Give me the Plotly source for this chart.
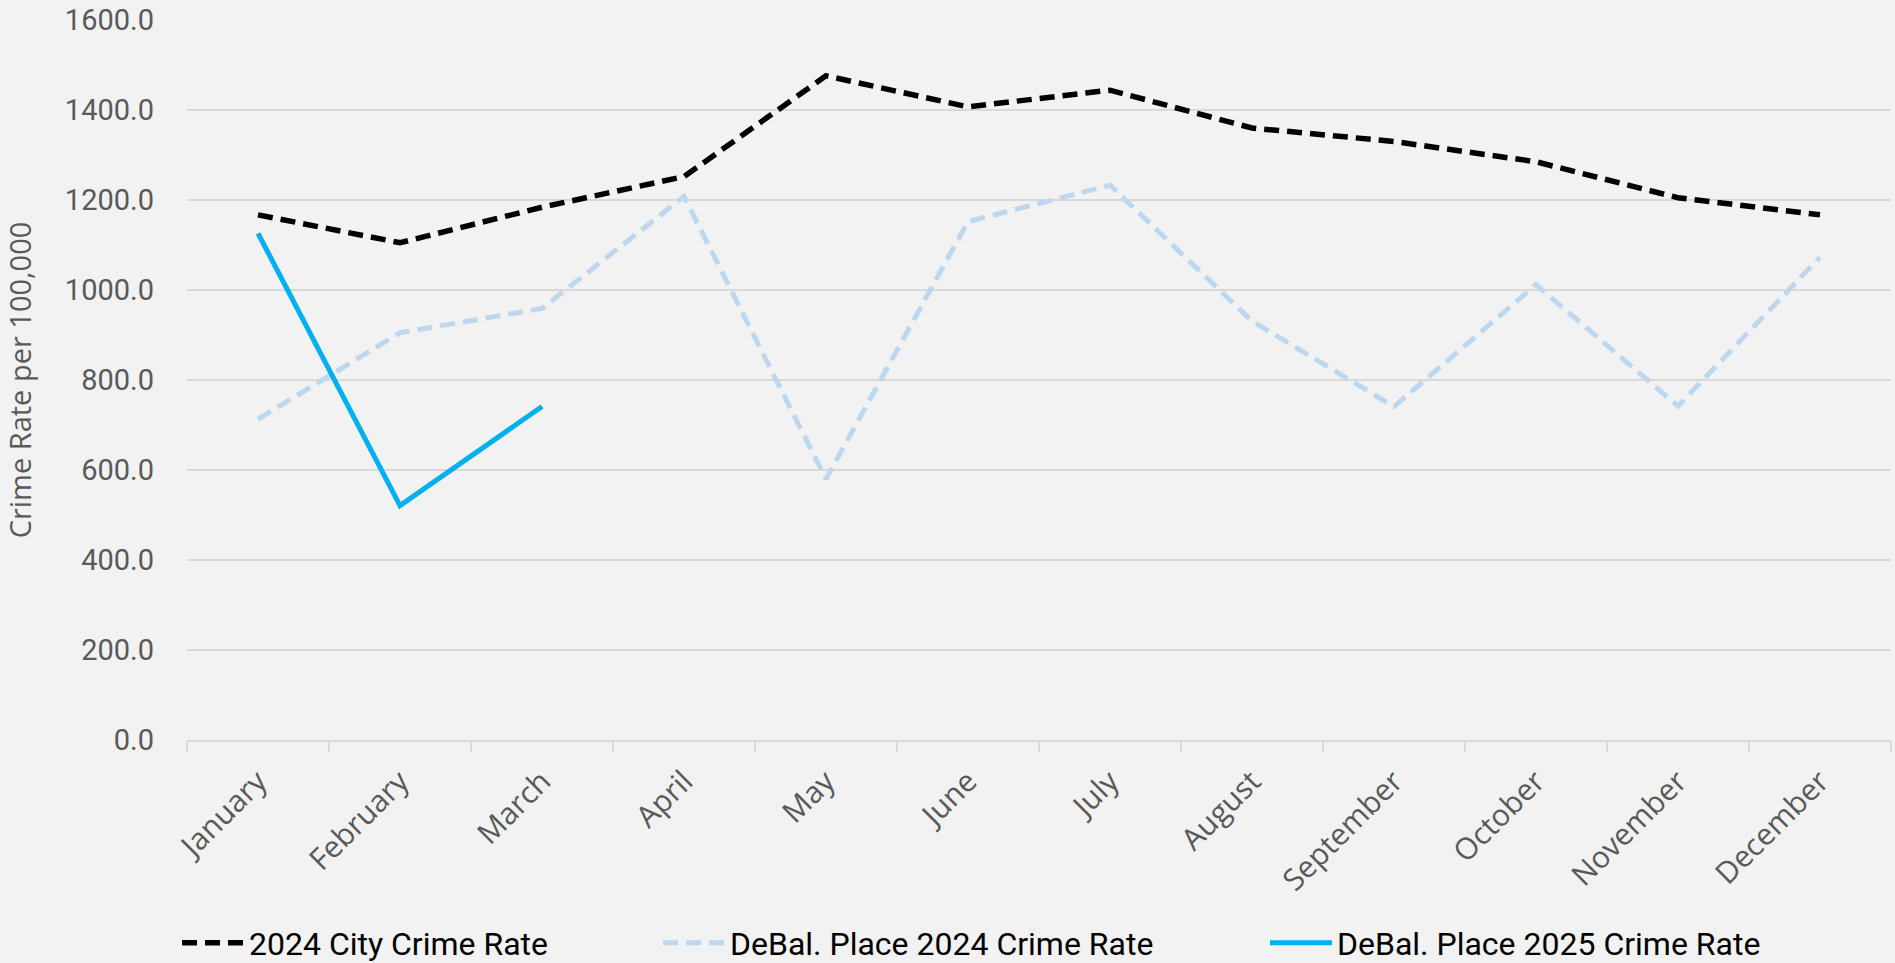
import plotly.graph_objects as go

months = ["January", "February", "March", "April", "May", "June", "July",
          "August", "September", "October", "November", "December"]
city_2024 = [1167, 1105, 1184, 1252, 1476, 1407, 1444, 1360, 1330, 1285, 1205, 1167]
debal_2024 = [713, 905, 959, 1208, 580, 1152, 1233, 931, 741, 1012, 742, 1073]
debal_2025 = [1126, 521, 741]

W, H = 1895, 963
L, R, T, B = 187, 4, 20, 223
PW = W - L - R
PH = H - T - B


def px_x(px):
    return (px - L) / PW


def px_y(py):
    return (H - B - py) / PH


fig = go.Figure()
fig.add_trace(go.Scatter(
    x=months, y=city_2024, mode="lines", name="2024 City Crime Rate",
    line=dict(color="#000000", width=5.5, dash="15px,8px"),
    legend="legend", showlegend=True))
fig.add_trace(go.Scatter(
    x=months, y=debal_2024, mode="lines", name="DeBal. Place 2024 Crime Rate",
    line=dict(color="#BDD7EE", width=5, dash="15px,8px"),
    legend="legend2", showlegend=True))
fig.add_trace(go.Scatter(
    x=months[:len(debal_2025)], y=debal_2025, mode="lines",
    name="DeBal. Place 2025 Crime Rate",
    line=dict(color="#00B0F0", width=5), legend="legend3", showlegend=True))

leg_common = dict(orientation="h", yanchor="middle", xanchor="left",
                  bgcolor="rgba(0,0,0,0)", itemwidth=62,
                  font=dict(family="Roboto, Liberation Sans, sans-serif", size=32, color="#000000"))
fig.update_layout(
    width=W, height=H,
    margin=dict(l=L, r=R, t=T, b=B, autoexpand=False),
    showlegend=True,
    paper_bgcolor="#F2F2F2", plot_bgcolor="#F2F2F2",
    legend=dict(x=px_x(177), y=px_y(943), **leg_common),
    legend2=dict(x=px_x(658), y=px_y(943), **leg_common),
    legend3=dict(x=px_x(1265), y=px_y(943), **leg_common),
    xaxis=dict(
        type="category", tickangle=-45, tickson="boundaries", automargin=False,
        ticks="outside", ticklen=10, tickcolor="#D9D9D9", tickwidth=1.5,
        showline=True, linecolor="#D9D9D9", linewidth=1.5,
        showgrid=False, range=[-0.5, 11.5], ticklabelstandoff=10,
        tickfont=dict(family="Open Sans, sans-serif", size=30, color="#595959"),
    ),
    yaxis=dict(
        range=[0, 1600], dtick=200, tickformat=".1f", automargin=False,
        showgrid=True, gridcolor="#D9D9D9", gridwidth=1.5,
        zeroline=False, showline=False, ticks="",
        ticklabelstandoff=32,
        tickfont=dict(family="Roboto, Liberation Sans, sans-serif", size=29, color="#595959"),
        title=dict(text="Crime Rate per 100,000", standoff=29,
                   font=dict(family="Open Sans, sans-serif", size=29, color="#595959")),
    ),
)

fig.write_html(
    "out.html",
    config={"displayModeBar": False},
    post_script="document.body.style.margin='0';document.body.style.overflow='hidden';",
)
